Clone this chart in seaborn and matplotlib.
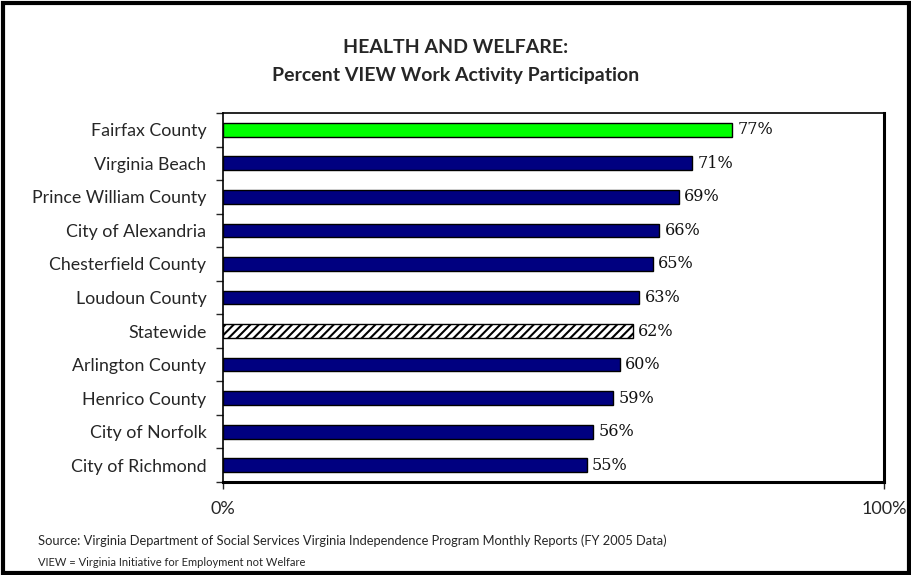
import matplotlib
matplotlib.use("Agg")
import matplotlib.pyplot as plt
import numpy as np
import seaborn as sns
from matplotlib.patches import Rectangle

counties = ["Fairfax County", "Virginia Beach", "Prince William County",
            "City of Alexandria", "Chesterfield County", "Loudoun County",
            "Statewide", "Arlington County", "Henrico County",
            "City of Norfolk", "City of Richmond"]
pct = [77, 71, 69, 66, 65, 63, 62, 60, 59, 56, 55]
bar_colors = ["#00FF00", "#000080", "#000080", "#000080", "#000080", "#000080",
              "#FFFFFF", "#000080", "#000080", "#000080", "#000080"]
x_ticks = [0, 100]
x_tick_labels = ["0%", "100%"]

sns.set_style("white")
plt.rcParams["font.family"] = ["Lato", "DejaVu Sans"]
plt.rcParams["hatch.linewidth"] = 1.5

fig = plt.figure(figsize=(9.12, 5.75), dpi=100)
ax = fig.add_axes([0.2445, 0.1617, 0.7248, 0.6417])

sns.barplot(x=pct, y=counties, hue=counties, palette=bar_colors, legend=False,
            width=0.41, edgecolor="black", linewidth=1, saturation=1, ax=ax)

# hatched bar for the statewide average
for patch, name in zip(ax.patches, counties):
    if name == "Statewide":
        patch.set_hatch("////")

for i, v in enumerate(pct):
    ax.text(v + 0.8, i, f"{v}%", va="center", ha="left", fontsize=11.5,
            family=["DejaVu Serif"], color="#111111")

ax.set_xlim(0, 100)
ax.set_ylim(len(counties) - 0.5, -0.5)
ax.set_xticks(x_ticks)
ax.set_xticklabels(x_tick_labels, fontsize=13)
ax.tick_params(axis="x", length=5, width=1, pad=9, direction="out", bottom=True)
ax.tick_params(axis="y", which="major", length=0, pad=12, labelsize=12.8)
ax.set_yticks(np.arange(-0.5, len(counties)), minor=True)
ax.tick_params(axis="y", which="minor", length=5, width=1, left=True)
ax.set_xlabel("")
ax.set_ylabel("")

for side in ["left", "top"]:
    ax.spines[side].set_linewidth(1.2)
    ax.spines[side].set_color("black")
for side in ["right", "bottom"]:
    ax.spines[side].set_linewidth(2.2)
    ax.spines[side].set_color("black")

fig.text(0.5, 0.918, "HEALTH AND WELFARE:", ha="center", va="center",
         fontsize=14, fontweight="bold")
fig.text(0.5, 0.869, "Percent VIEW Work Activity Participation", ha="center",
         va="center", fontsize=14, fontweight="bold")
fig.text(0.042, 0.059, "Source: Virginia Department of Social Services Virginia Independence "
         "Program Monthly Reports (FY 2005 Data)", fontsize=9.3, va="center")
fig.text(0.042, 0.021, "VIEW = Virginia Initiative for Employment not Welfare",
         fontsize=8, va="center")

fig.add_artist(Rectangle((0.003, 0.004), 0.994, 0.99, transform=fig.transFigure,
                         fill=False, edgecolor="black", linewidth=3))

fig.savefig("out.png", dpi=100)
